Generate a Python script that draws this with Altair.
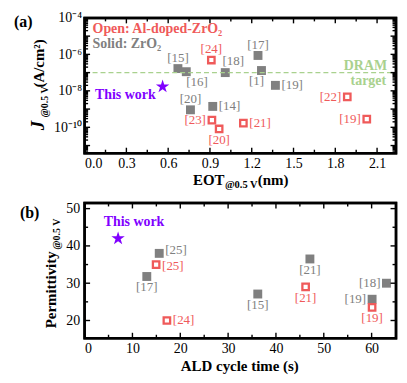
import altair as alt
import pandas as pd

FONT = "Liberation Serif"
GRAY = "#808080"
RED = "#ef5a5a"
GREEN = "#a9d18e"
PURPLE = "#8000ff"
TICKC = "black"

# ---------------- data: panel (a) ----------------
a_ref = ["[15]", "[16]", "[20]", "[14]", "[18]", "[17]", "[1]", "[19]",
         "[24]", "[23]", "[20]", "[21]", "[22]", "[19]"]
a_kind = ["ZrO2"] * 8 + ["Al"] * 6
a_eot = [0.67, 0.73, 0.76, 0.92, 1.01, 1.245, 1.27, 1.37,
         0.91, 0.914, 0.966, 1.14, 1.886, 2.026]
a_j = [1.66e-7, 1.12e-7, 9.1e-10, 1.4e-9, 1.0e-7, 8.7e-7, 1.3e-7, 2.0e-8,
       4.9e-7, 2.5e-10, 8.1e-11, 1.7e-10, 4.7e-9, 2.8e-10]
a_pos = ["above", "below_r", "above", "right", "above_r", "above", "below_l", "right",
         "above", "left", "below", "right", "left", "left"]
a_star_eot = [0.56]
a_star_j = [1.7e-8]
a_target = [1e-7]

a_x_major = [0.0, 0.3, 0.6, 0.9, 1.2, 1.5, 1.8, 2.1]
a_x_minor = [0.15, 0.45, 0.75, 1.05, 1.35, 1.65, 1.95]
a_y_labels = [1e-4, 1e-6, 1e-8, 1e-10]
a_y_major = [1e-11, 1e-10, 1e-9, 1e-8, 1e-7, 1e-6, 1e-5]
a_y_minor = [d * 10.0 ** k for k in range(-12, -4) for d in range(2, 10)]

# ---------------- data: panel (b) ----------------
b_ref = ["[25]", "[17]", "[15]", "[21]", "[18]", "[19]",
         "[25]", "[24]", "[21]", "[19]"]
b_kind = ["ZrO2"] * 6 + ["Al"] * 4
b_time = [15.6, 13.0, 36.2, 47.1, 63.1, 60.1, 14.95, 17.2, 46.2, 60.1]
b_perm = [38.0, 31.8, 27.1, 36.5, 30.0, 25.7, 35.0, 20.0, 29.0, 23.5]
b_pos = ["right_up", "below", "below", "below", "left", "left",
         "right_dn", "right", "below", "below"]
b_star_time = [7.0]
b_star_perm = [42.0]

b_x_major = [0, 10, 20, 30, 40, 50, 60]
b_x_minor = [5, 15, 25, 35, 45, 55]
b_y_major = [20, 30, 40, 50]
b_y_minor = [25, 35, 45]

W, H = 313, 136

STAR = ("M0,-1 L0.2245,-0.309 L0.951,-0.309 L0.363,0.118 L0.588,0.809 "
        "L0,0.382 L-0.588,0.809 L-0.363,0.118 L-0.951,-0.309 L-0.2245,-0.309 Z")

PLACE = {
    "above": dict(align="center", dx=0, dy=-11),
    "above_r": dict(align="center", dx=8, dy=-12),
    "below": dict(align="center", dx=0, dy=11),
    "below_l": dict(align="center", dx=-5, dy=11),
    "below_r": dict(align="left", dx=0, dy=10),
    "right": dict(align="left", dx=6, dy=0),
    "right_up": dict(align="left", dx=6, dy=-3),
    "right_dn": dict(align="left", dx=6, dy=1),
    "left": dict(align="right", dx=-6, dy=0),
}

ONE = pd.DataFrame({"z": [0]})
kind_color = alt.Color("kind:N", scale=alt.Scale(domain=["ZrO2", "Al"], range=[GRAY, RED]), legend=None)


def txt(s, x, y, size=14, color="black", weight="bold", align="left",
        baseline="alphabetic", angle=0, style="normal"):
    return alt.Chart(ONE).mark_text(
        text=s, font=FONT, fontSize=size, color=color, fontWeight=weight,
        align=align, baseline=baseline, angle=angle, fontStyle=style
    ).encode(x=alt.value(x), y=alt.value(y))


def frame():
    return alt.Chart(ONE).mark_rect(filled=False, stroke="black", strokeWidth=2.5).encode(
        x=alt.value(0), x2=alt.value(W), y=alt.value(0), y2=alt.value(H))


def in_dom(vals, lo, hi):
    return [v for v in vals if lo <= v <= hi]


def tick_layers(X, Y, xf, yf, x_major, x_minor, y_major, y_minor):
    out = []
    for vals, L in ((x_major, 5.5), (x_minor, 3.5)):
        df = pd.DataFrame({xf: vals})
        out.append(alt.Chart(df).mark_rule(color=TICKC, strokeWidth=1.4).encode(
            x=X(f"{xf}:Q"), y=alt.value(H), y2=alt.value(H - L)))
        out.append(alt.Chart(df).mark_rule(color=TICKC, strokeWidth=1.4).encode(
            x=X(f"{xf}:Q"), y=alt.value(0), y2=alt.value(L)))
    for vals, L in ((y_major, 5.5), (y_minor, 3.5)):
        df = pd.DataFrame({yf: vals})
        out.append(alt.Chart(df).mark_rule(color=TICKC, strokeWidth=1.4).encode(
            y=Y(f"{yf}:Q"), x=alt.value(0), x2=alt.value(L)))
        out.append(alt.Chart(df).mark_rule(color=TICKC, strokeWidth=1.4).encode(
            y=Y(f"{yf}:Q"), x=alt.value(W), x2=alt.value(W - L)))
    return out


def label_layers(df, X, Y, xf, yf):
    out = []
    for p in sorted(set(df["pos"])):
        out.append(
            alt.Chart(df).mark_text(font=FONT, fontSize=13, baseline="middle", **PLACE[p])
            .encode(x=X(f"{xf}:Q"), y=Y(f"{yf}:Q"), text="ref:N", color=kind_color)
            .transform_filter(alt.datum.pos == p)
        )
    return out


AXSTYLE = dict(ticks=False, domain=False, grid=False, title=None, labelFont=FONT,
               labelFontSize=14, labelColor="black", labelFontWeight="normal")

# ---------------- panel (a) ----------------
XA_MAX = 2.236
YA_MIN = 10 ** -11.42
xs_a = alt.Scale(domain=[0, XA_MAX], nice=False, zero=False)
ys_a = alt.Scale(type="log", domain=[YA_MIN, 1e-4], nice=False)

ylab_expr = ("datum.value > 5e-5 ? '10⁻⁴' : datum.value > 5e-7 ? '10⁻⁶' : "
             "datum.value > 5e-9 ? '10⁻⁸' : '10⁻¹⁰'")
ax_xa = alt.Axis(values=a_x_major, format=".1f", labelPadding=3, **AXSTYLE)
ax_ya = alt.Axis(values=a_y_labels, labelExpr=ylab_expr, labelPadding=3, **AXSTYLE)
XA = lambda f: alt.X(f, scale=xs_a, axis=ax_xa)
YA = lambda f: alt.Y(f, scale=ys_a, axis=ax_ya)

dfa = pd.DataFrame({"eot": a_eot, "j": a_j, "ref": a_ref, "kind": a_kind, "pos": a_pos})
dfa_star = pd.DataFrame({"eot": a_star_eot, "j": a_star_j})
dfa_t = pd.DataFrame({"j": a_target})

ticks_a = tick_layers(XA, YA, "eot", "j", a_x_major, a_x_minor,
                      in_dom(a_y_major, YA_MIN, 1e-4), in_dom(a_y_minor, YA_MIN, 1e-4))

a_line = alt.Chart(dfa_t).mark_rule(color=GREEN, strokeDash=[5, 3], strokeWidth=1.3).encode(
    y=YA("j:Q"), x=alt.value(0), x2=alt.value(W))
a_dram = alt.Chart(dfa_t).mark_text(text="DRAM", font=FONT, fontSize=14, fontWeight="bold",
                                    color=GREEN, align="right", baseline="middle", dy=-7).encode(
    y=YA("j:Q"), x=alt.value(W - 9))
a_targ = alt.Chart(dfa_t).mark_text(text="target", font=FONT, fontSize=14, fontWeight="bold",
                                    color=GREEN, align="right", baseline="middle", dy=8).encode(
    y=YA("j:Q"), x=alt.value(W - 10))

a_gray = alt.Chart(dfa).mark_square(size=80, color=GRAY, opacity=1).encode(
    x=XA("eot:Q"), y=YA("j:Q")).transform_filter(alt.datum.kind == "ZrO2")
a_red = alt.Chart(dfa).mark_square(size=42, fill="white", stroke=RED, strokeWidth=2.3,
                                   filled=True, opacity=1).encode(
    x=XA("eot:Q"), y=YA("j:Q")).transform_filter(alt.datum.kind == "Al")
a_star = alt.Chart(dfa_star).mark_point(shape=STAR, size=200, filled=True, color=PURPLE, opacity=1).encode(
    x=XA("eot:Q"), y=YA("j:Q"))
a_tw = alt.Chart(dfa_star).mark_text(text="This work", font=FONT, fontSize=14, fontWeight="bold",
                                     color=PURPLE, align="right", baseline="middle", dx=-7, dy=8).encode(
    x=XA("eot:Q"), y=YA("j:Q"))

a_texts = [
    txt("(a)", -71, 9, size=16),
    txt("Open: Al-doped-ZrO₂", 8, 15, color=RED),
    txt("Solid: ZrO₂", 8, 30, color=GRAY),
    txt("EOT", 109, 168, size=15),
    txt("@0.5 V", 141, 171, size=10.5),
    txt("(nm)", 174, 168, size=15),
    txt("J", -41, 113, size=19, angle=270, style="italic"),
    txt("@0.5 V", -36.5, 100, size=10, angle=270),
    txt("(A/cm²)", -41, 70, size=15, angle=270),
]

a_layers = ([a_gray, a_line, frame(), a_red, a_star, a_tw, a_dram, a_targ]
            + label_layers(dfa, XA, YA, "eot", "j") + a_texts + ticks_a)
panel_a = alt.layer(*a_layers).properties(width=W, height=H)

# ---------------- panel (b) ----------------
xs_b = alt.Scale(domain=[0, 65.1], nice=False, zero=False)
ys_b = alt.Scale(domain=[15.24, 51.52], nice=False, zero=False)
ax_xb = alt.Axis(values=b_x_major, format="d", labelPadding=3, **AXSTYLE)
ax_yb = alt.Axis(values=b_y_major, format="d", labelPadding=5, **AXSTYLE)
XB = lambda f: alt.X(f, scale=xs_b, axis=ax_xb)
YB = lambda f: alt.Y(f, scale=ys_b, axis=ax_yb)

dfb = pd.DataFrame({"t": b_time, "k": b_perm, "ref": b_ref, "kind": b_kind, "pos": b_pos})
dfb_star = pd.DataFrame({"t": b_star_time, "k": b_star_perm})

ticks_b = tick_layers(XB, YB, "t", "k", b_x_major, b_x_minor, b_y_major, b_y_minor)

b_gray = alt.Chart(dfb).mark_square(size=80, color=GRAY, opacity=1).encode(
    x=XB("t:Q"), y=YB("k:Q")).transform_filter(alt.datum.kind == "ZrO2")
b_red = alt.Chart(dfb).mark_square(size=42, fill="white", stroke=RED, strokeWidth=2.3,
                                   filled=True, opacity=1).encode(
    x=XB("t:Q"), y=YB("k:Q")).transform_filter(alt.datum.kind == "Al")
b_star = alt.Chart(dfb_star).mark_point(shape=STAR, size=200, filled=True, color=PURPLE, opacity=1).encode(
    x=XB("t:Q"), y=YB("k:Q"))
b_tw = alt.Chart(dfb_star).mark_text(text="This work", font=FONT, fontSize=14, fontWeight="bold",
                                     color=PURPLE, align="center", baseline="middle", dx=16, dy=-17).encode(
    x=XB("t:Q"), y=YB("k:Q"))

b_texts = [
    txt("(b)", -65, 15, size=16),
    txt("ALD cycle time (s)", 156, 169, size=15, align="center"),
    txt("Permittivity", -29, 126, size=15, angle=270),
    txt("@0.5 V", -24.5, 47, size=10, angle=270),
]

b_layers = ([b_gray, frame(), b_red, b_star, b_tw]
            + label_layers(dfb, XB, YB, "t", "k") + b_texts + ticks_b)
panel_b = alt.layer(*b_layers).properties(width=W, height=H)

chart = (
    alt.vconcat(panel_a, panel_b, spacing=50, bounds="flush")
    .properties(padding={"left": 4, "top": 0, "right": 0, "bottom": 0}, background="white")
    .configure_view(stroke="black", strokeWidth=2.5)
)

chart.save("out.html", embed_options={"renderer": "svg", "actions": False})
